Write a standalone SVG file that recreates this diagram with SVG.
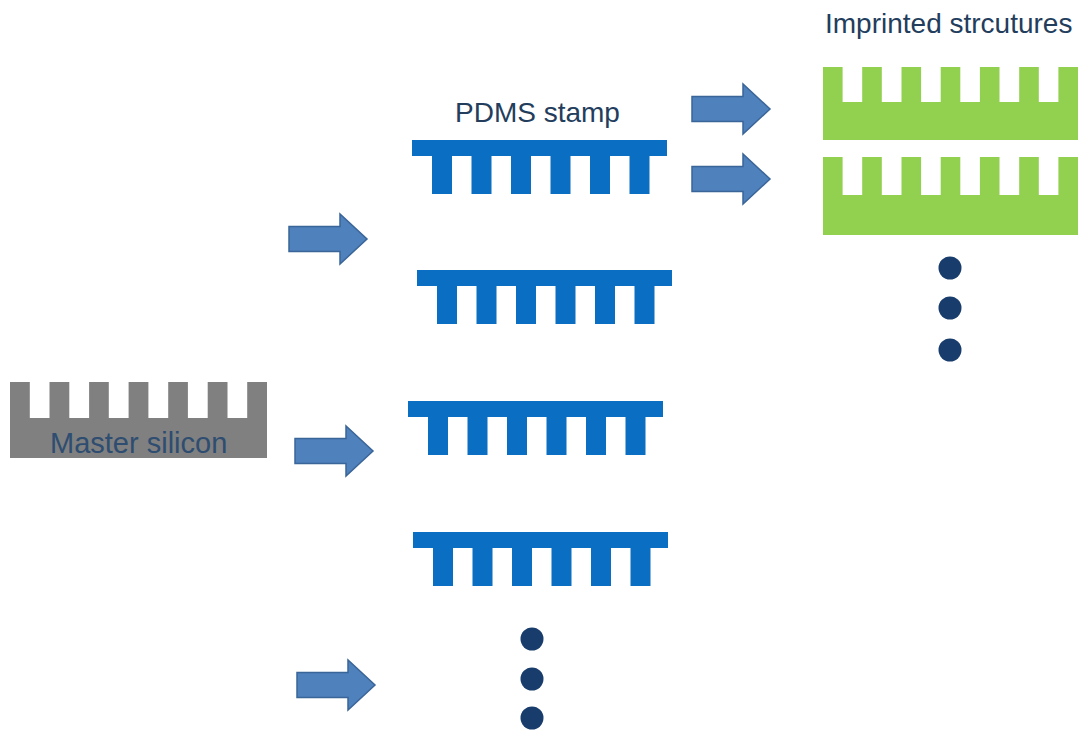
<svg xmlns="http://www.w3.org/2000/svg" xmlns:xlink="http://www.w3.org/1999/xlink" width="1091" height="733" viewBox="0 0 1091 733">
  <style>
    .label { font-family: "Liberation Sans", Arial, sans-serif; font-size: 28px; fill: #233d5c; }
    .master-label { font-family: "Liberation Sans", Arial, sans-serif; font-size: 29px; fill: #2e4d70; }
    .stamp { fill: #0a6fc2; }
    .green { fill: #92d050; }
    .silicon { fill: #808080; }
    .dot { fill: #183c6b; }
    .arrow { fill: #4f81bd; stroke: #3a6598; stroke-width: 1.5; stroke-linejoin: miter; }
  </style>
  <defs>
    <path id="stampShape" d="M0,0 H255 V16 H237.5 V54 H217.5 V16 H198 V54 H178 V16 H158.5 V54 H138.5 V16 H119 V54 H99 V16 H79.5 V54 H59.5 V16 H40 V54 H20 V16 H0 Z"/>
    <polygon id="arrowShape" points="0,-12.5 51,-12.5 51,-25 78,0 51,25 51,12.5 0,12.5"/>
  </defs>
  <rect width="1091" height="733" fill="#ffffff"/>

  <g id="master-silicon">
    <path class="silicon" d="M10,382 H29.8 V418 H49.5 V382 H69.3 V418 H89.1 V382 H108.8 V418 H128.6 V382 H148.4 V418 H168.2 V382 H187.9 V418 H207.7 V382 H227.5 V418 H247.2 V382 H267 V458 H10 Z"/>
    <text class="master-label" x="50" y="453">Master silicon</text>
  </g>

  <g id="pdms-label">
    <text class="label" x="455" y="122">PDMS stamp</text>
  </g>
  <g id="stamp-1"><use xlink:href="#stampShape" class="stamp" transform="translate(412,140)"/></g>
  <g id="stamp-2"><use xlink:href="#stampShape" class="stamp" transform="translate(417,270)"/></g>
  <g id="stamp-3"><use xlink:href="#stampShape" class="stamp" transform="translate(408,401)"/></g>
  <g id="stamp-4"><use xlink:href="#stampShape" class="stamp" transform="translate(413,532)"/></g>
  <g id="stamp-dots">
    <circle class="dot" cx="532" cy="639" r="11.5"/>
    <circle class="dot" cx="532" cy="679" r="11.5"/>
    <circle class="dot" cx="532" cy="718" r="11.5"/>
  </g>

  <g id="imprinted-label">
    <text class="label" x="825" y="33">Imprinted strcutures</text>
  </g>
  <g id="imprint-1">
    <path class="green" d="M823,67 H842.6 V102 H862.2 V67 H881.8 V102 H901.5 V67 H921.1 V102 H940.7 V67 H960.3 V102 H979.9 V67 H999.5 V102 H1019.2 V67 H1038.8 V102 H1058.4 V67 H1078 V140 H823 Z"/>
  </g>
  <g id="imprint-2">
    <path class="green" d="M823,157 H842.6 V195 H862.2 V157 H881.8 V195 H901.5 V157 H921.1 V195 H940.7 V157 H960.3 V195 H979.9 V157 H999.5 V195 H1019.2 V157 H1038.8 V195 H1058.4 V157 H1078 V235 H823 Z"/>
  </g>
  <g id="imprint-dots">
    <circle class="dot" cx="950" cy="268" r="11.5"/>
    <circle class="dot" cx="950" cy="308" r="11.5"/>
    <circle class="dot" cx="950" cy="350" r="11.5"/>
  </g>

  <g id="connectors">
    <use xlink:href="#arrowShape" class="arrow" transform="translate(692,109)"/>
    <use xlink:href="#arrowShape" class="arrow" transform="translate(692,179)"/>
    <use xlink:href="#arrowShape" class="arrow" transform="translate(289,239)"/>
    <use xlink:href="#arrowShape" class="arrow" transform="translate(295,451)"/>
    <use xlink:href="#arrowShape" class="arrow" transform="translate(297,685)"/>
  </g>
</svg>
